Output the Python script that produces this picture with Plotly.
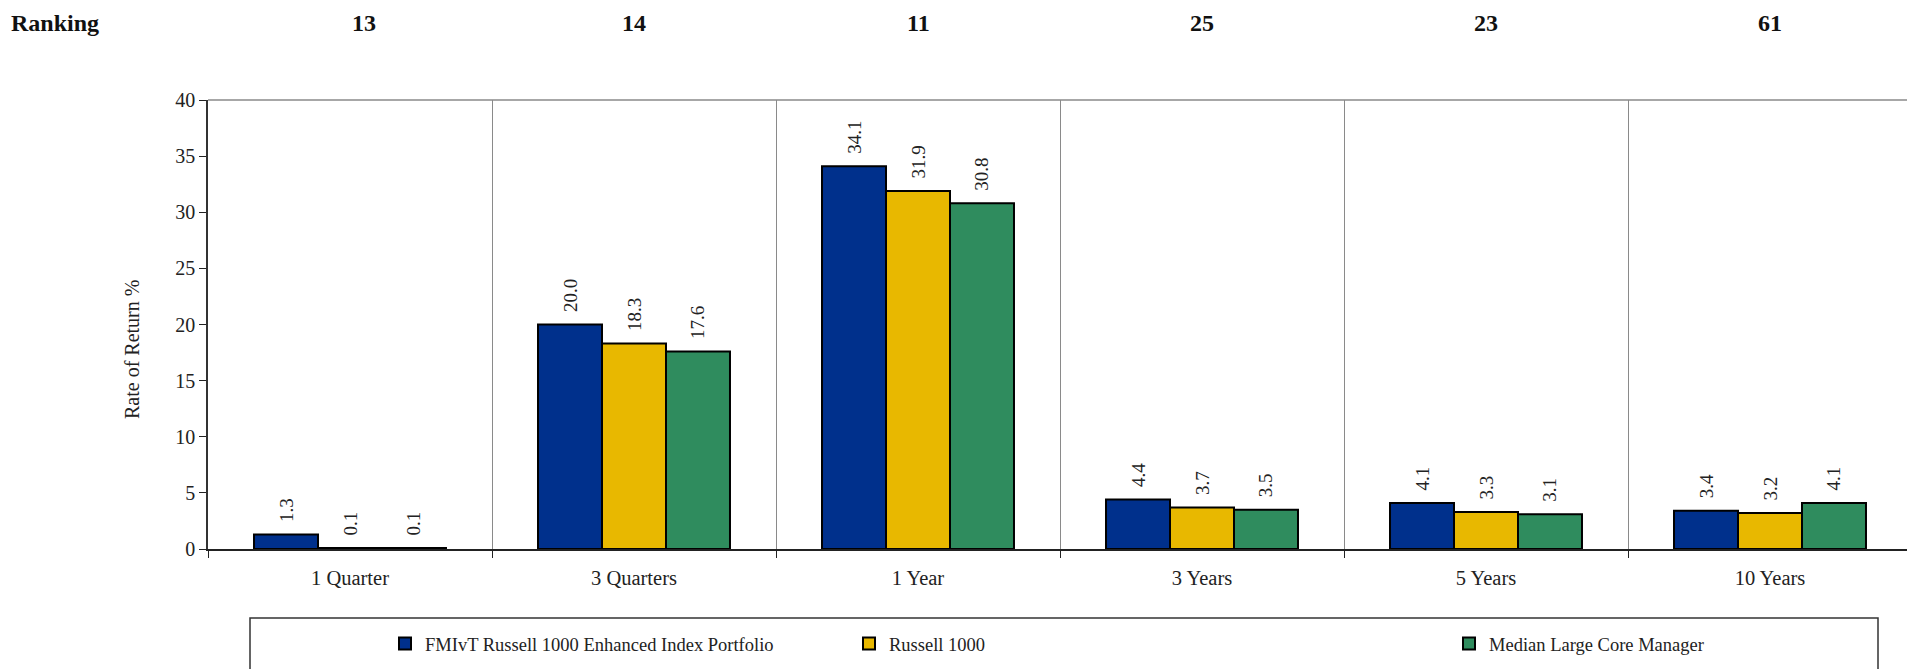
import plotly.graph_objects as go

categories = ["1 Quarter", "3 Quarters", "1 Year", "3 Years", "5 Years", "10 Years"]
rankings = ["13", "14", "11", "25", "23", "61"]
series_names = ["FMIvT Russell 1000 Enhanced Index Portfolio", "Russell 1000", "Median Large Core Manager"]
fmivt = [1.3, 20.0, 34.1, 4.4, 4.1, 3.4]
russell = [0.1, 18.3, 31.9, 3.7, 3.3, 3.2]
median = [0.1, 17.6, 30.8, 3.5, 3.1, 4.1]

colors = ["#00308C", "#E8B800", "#2F8C5E"]
FONT = "Liberation Serif"
NB = "\u00a0"

# page body has an 8px margin: work in page pixels and convert
OFF = 8
W, H = 1915 - OFF, 669 - OFF
PL, PT, PR, PB = 208, 100, 1912, 549  # plot area in page pixels
L, T = PL - OFF, PT - OFF
R = W - (PR - OFF)
B = H - (PB - OFF)
pw = PR - PL
ph = PB - PT

def px2x(px):
    return (px - PL) / pw

def py2y(py):
    return (PB - py) / ph

fig = go.Figure()
legend_ids = ["legend", "legend2", "legend3"]
for name, vals, col, lg in zip(series_names, [fmivt, russell, median], colors, legend_ids):
    fig.add_trace(go.Bar(
        x=categories, y=vals, name=name,
        marker=dict(color=col, line=dict(color="black", width=2)),
        text=[NB * 2 + f"{v:.1f}" for v in vals],
        textposition="outside", textangle=-90,
        textfont=dict(family=FONT, size=19, color="#222"),
        cliponaxis=False, legend=lg,
    ))

fig.update_layout(
    width=W, height=H,
    margin=dict(l=L, r=R, t=T, b=B, autoexpand=False),
    paper_bgcolor="white", plot_bgcolor="white",
    barmode="group", bargap=0.324, bargroupgap=0,
    font=dict(family=FONT, size=20, color="#222"),
    xaxis=dict(
        tickson="boundaries", ticks="outside", ticklen=7, tickcolor="#222",
        showgrid=True, gridcolor="#8a8a8a", gridwidth=1,
        showline=True, linecolor="#222", linewidth=1.5,
        tickfont=dict(family=FONT, size=20.5, color="#222"),
        ticklabelstandoff=10, automargin=False,
    ),
    yaxis=dict(
        range=[0, 40], dtick=5, ticks="outside", ticklen=7, tickcolor="#222",
        showgrid=False, zeroline=False,
        showline=True, linecolor="#333", linewidth=1.5,
        tickfont=dict(family=FONT, size=20, color="#222"),
        automargin=False,
    ),
    showlegend=True,
)

leg_common = dict(orientation="h", yanchor="middle", xanchor="left",
                  xref="container", yref="container",
                  font=dict(family=FONT, size=18.5, color="#222"),
                  bgcolor="rgba(0,0,0,0)", borderwidth=0)
ly = 1 - (644 - OFF) / H
fig.update_layout(
    legend=dict(x=(385 - OFF) / W, y=ly, **leg_common),
    legend2=dict(x=(849 - OFF) / W, y=ly, **leg_common),
    legend3=dict(x=(1449 - OFF) / W, y=ly, **leg_common),
)

# y-axis title
fig.add_annotation(text="Rate of Return %", xref="paper", yref="paper",
                   x=px2x(132), y=py2y(350), textangle=-90, showarrow=False,
                   xanchor="center", yanchor="middle",
                   font=dict(family=FONT, size=20, color="#222"))

# plot frame (top, right) and legend box
fig.add_shape(type="line", xref="paper", yref="paper", x0=0, x1=1, y0=1, y1=1,
              line=dict(color="#8a8a8a", width=1.5))
fig.add_shape(type="line", xref="paper", yref="paper", x0=1, x1=1, y0=0, y1=1,
              line=dict(color="#8a8a8a", width=1.5))
fig.add_shape(type="rect", xref="paper", yref="paper",
              x0=px2x(250), x1=px2x(1878), y0=py2y(690), y1=py2y(618),
              line=dict(color="#333", width=1.5), fillcolor="rgba(0,0,0,0)")

# ranking row (top edge of the figure)
rank_y = py2y(OFF)
fig.add_annotation(text="<b>Ranking</b>", xref="paper", yref="paper", x=px2x(8.5), y=rank_y,
                   xanchor="left", yanchor="top", showarrow=False,
                   font=dict(family=FONT, size=24, color="#111"))
for i, (c, r) in enumerate(zip(categories, rankings)):
    fig.add_annotation(text=f"<b>{r}</b>", x=c, xref="x", yref="paper", y=rank_y,
                       xanchor="center", yanchor="top", showarrow=False,
                       xshift=14 if i == 0 else 0,
                       font=dict(family=FONT, size=24, color="#111"))

fig.write_html("out.html")
